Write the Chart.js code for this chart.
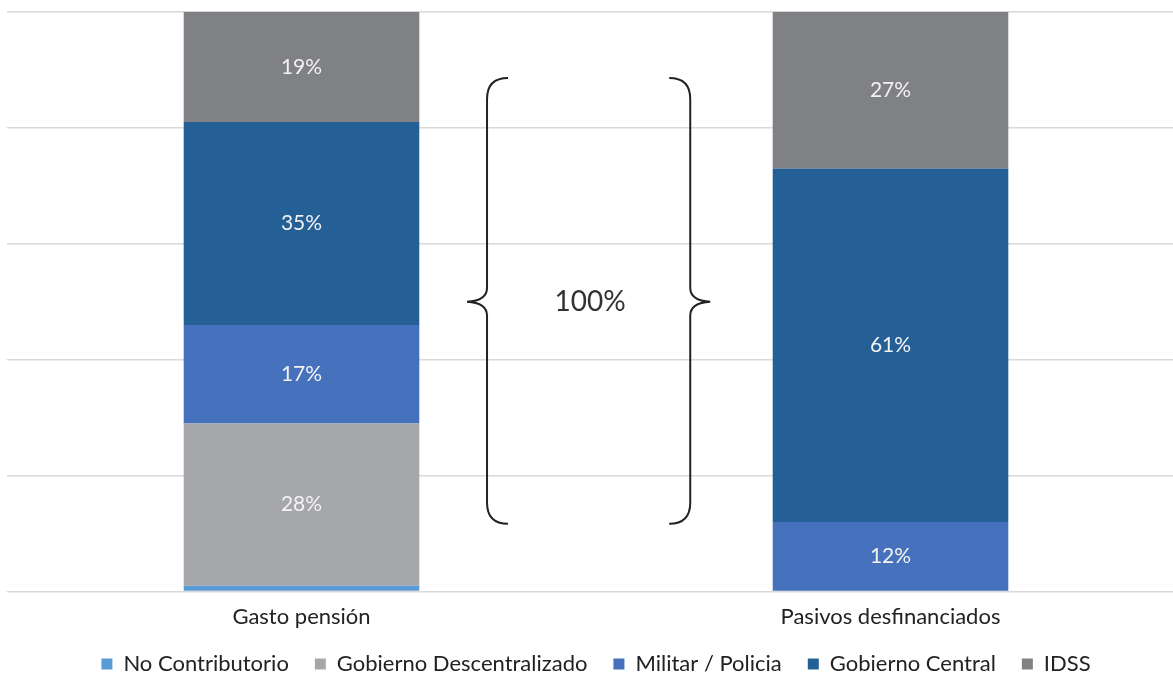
<!DOCTYPE html>
<html>
<head>
<meta charset="utf-8">
<script src="https://cdn.jsdelivr.net/npm/chart.js@4/dist/chart.umd.min.js"></script>
<style>
  html, body { margin: 0; padding: 0; background: #fff; overflow: hidden; }
  #wrap { width: 1185px; height: 692px; }
</style>
</head>
<body>
<div id="wrap"><canvas id="chart"></canvas></div>
<script>
// categorias y series (% del total)
const categorias = ['Gasto pensión', 'Pasivos desfinanciados'];
const noContributorio = [1, 0];
const gobDescentralizado = [28, 0];
const militarPolicia = [17, 12];
const gobCentral = [35, 61];
const idss = [19, 27];
const yTicks = [0, 20, 40, 60, 80, 100];
const llaveTexto = '100%';

const FONT = 'Lato, "Open Sans", sans-serif';

// etiquetas dentro de cada segmento
const etiquetas = {
  id: 'etiquetas',
  afterDatasetsDraw(chart) {
    const { ctx } = chart;
    ctx.save();
    ctx.font = `21px ${FONT}`;
    ctx.fillStyle = '#f2f2f2';
    ctx.textAlign = 'center';
    ctx.textBaseline = 'middle';
    chart.data.datasets.forEach((ds, i) => {
      chart.getDatasetMeta(i).data.forEach((bar, j) => {
        const v = ds.data[j];
        if (v < 5) return;
        const { x, y, base } = bar.getProps(['x', 'y', 'base'], true);
        ctx.fillText(`${v}%`, x, (y + base) / 2);
      });
    });
    ctx.restore();
  }
};

// llaves "{ 100% }" entre las barras
const llaves = {
  id: 'llaves',
  afterDraw(chart) {
    const { ctx, scales: { x, y } } = chart;
    const unit = x.getPixelForValue(1) - x.getPixelForValue(0);
    const x0 = x.getPixelForValue(0);
    const top = y.getPixelForValue(88.6);
    const bot = y.getPixelForValue(11.7);
    const mid = y.getPixelForValue(50);
    const r = 21;

    function llave(xv, dir) {
      // dir = 1 llave izquierda "{", dir = -1 llave derecha "}"
      const tip = xv - dir * 20;
      const end = xv + dir * 21;
      ctx.beginPath();
      ctx.moveTo(end, top);
      ctx.quadraticCurveTo(xv, top, xv, top + r);
      ctx.lineTo(xv, mid - 14);
      ctx.quadraticCurveTo(xv, mid - 1, tip, mid);
      ctx.quadraticCurveTo(xv, mid + 1, xv, mid + 14);
      ctx.lineTo(xv, bot - r);
      ctx.quadraticCurveTo(xv, bot, end, bot);
      ctx.stroke();
    }

    ctx.save();
    ctx.strokeStyle = '#222';
    ctx.lineWidth = 2;
    llave(x0 + 0.315 * unit, 1);
    llave(x0 + 0.66 * unit, -1);
    ctx.font = `28px ${FONT}`;
    ctx.fillStyle = '#333';
    ctx.textAlign = 'center';
    ctx.textBaseline = 'middle';
    ctx.fillText(llaveTexto, x0 + 0.49 * unit, mid);
    ctx.restore();
  }
};

// acerca la leyenda a las etiquetas del eje
const subirLeyenda = {
  id: 'subirLeyenda',
  afterLayout(chart) {
    chart.legend.top -= 7;
    chart.legend.bottom -= 7;
  }
};

function ds(label, data, color) {
  return { label, data, backgroundColor: color, borderWidth: 0, barPercentage: 0.8, categoryPercentage: 0.5 };
}

new Chart(document.getElementById('chart'), {
  type: 'bar',
  data: {
    labels: categorias,
    datasets: [
      ds('No Contributorio', noContributorio, '#5b9bd5'),
      ds('Gobierno Descentralizado', gobDescentralizado, '#a6a7aa'),
      ds('Militar / Policia', militarPolicia, '#4671bd'),
      ds('Gobierno Central', gobCentral, '#246096'),
      ds('IDSS', idss, '#808185')
    ]
  },
  options: {
    responsive: true, maintainAspectRatio: false, animation: false,
    layout: { padding: { top: 12, left: 7, right: 0, bottom: 0 } },
    plugins: {
      legend: {
        position: 'bottom',
        labels: {
          color: '#222', font: { family: FONT, size: 22 },
          boxWidth: 11, boxHeight: 11, padding: 26
        }
      },
      tooltip: { enabled: false }
    },
    scales: {
      x: {
        stacked: true,
        grid: { display: false },
        border: { display: false },
        ticks: { color: '#222', font: { family: FONT, size: 22 }, padding: 4 }
      },
      y: {
        stacked: true, min: 0, max: 100,
        afterBuildTicks: axis => { axis.ticks = yTicks.map(v => ({ value: v })); },
        grid: { color: '#d9d9d9', lineWidth: 1.5, drawTicks: false },
        border: { display: false },
        ticks: { display: false }
      }
    }
  },
  plugins: [etiquetas, llaves, subirLeyenda]
});
</script>
</body>
</html>
